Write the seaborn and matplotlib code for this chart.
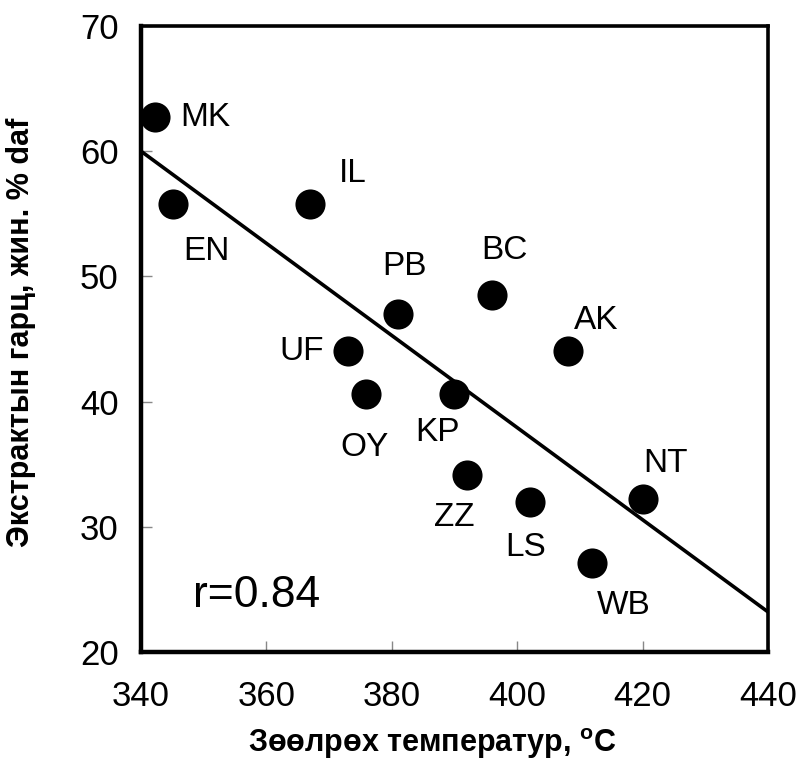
import matplotlib
matplotlib.use("Agg")
import matplotlib.pyplot as plt
import seaborn as sns
import pandas as pd

# ---- data ----
codes = ["MK", "EN", "IL", "PB", "BC", "AK", "UF", "OY", "KP", "ZZ", "LS", "NT", "WB"]
soft_temp = [342.2, 345.1, 367.0, 381.0, 396.0, 408.1, 373.0, 375.9, 389.9, 392.0, 402.0, 420.0, 412.0]
extract_yield = [62.7, 55.8, 55.8, 47.0, 48.5, 44.0, 44.0, 40.6, 40.6, 34.1, 32.0, 32.2, 27.1]
fit_x = [340, 440]
fit_y = [60.0, 23.2]
x_ticks = [340, 360, 380, 400, 420, 440]
y_ticks = [20, 30, 40, 50, 60, 70]
r_text = "r=0.84"
x_label = "Зөөлрөх температур, $\\mathregular{^o}$C"
y_label = "Экстрактын гарц, жин. % daf"

# label offsets (pixels) relative to each point
label_offsets = {
    "MK": (51, 0), "IL": (42, 30), "EN": (33, -48), "PB": (6, 47),
    "BC": (12, 45), "AK": (28, 31), "UF": (-46, 0), "OY": (-2, -53),
    "KP": (-16, -38), "ZZ": (-13, -42), "LS": (-4, -46), "NT": (23, 36),
    "WB": (31, -42),
}

df = pd.DataFrame({"code": codes, "temp": soft_temp, "yield": extract_yield})
fit_df = pd.DataFrame({"temp": fit_x, "yield": fit_y})

sns.set_style("ticks")
plt.rcParams["font.family"] = ["Liberation Sans", "DejaVu Sans"]
plt.rcParams["mathtext.default"] = "regular"
plt.rcParams["axes.labelcolor"] = "black"
plt.rcParams["text.color"] = "black"

fig = plt.figure(figsize=(7.98, 7.62), dpi=100)
ax = fig.add_axes([0.1767, 0.1444, 0.7857, 0.8215])

sns.lineplot(data=fit_df, x="temp", y="yield", ax=ax, color="black", linewidth=2.6)
sns.scatterplot(data=df, x="temp", y="yield", ax=ax, color="black", s=470,
                edgecolor="black", linewidth=0, zorder=5, clip_on=False)

for c, xv, yv in zip(codes, soft_temp, extract_yield):
    dx, dy = label_offsets[c]
    ax.annotate(c, (xv, yv), xytext=(dx, dy), textcoords="offset pixels",
                ha="center", va="center", fontsize=24, color="black")

ax.text(0.083, 0.09, r_text, transform=ax.transAxes, fontsize=32,
        ha="left", va="center", color="black")

ax.set_xlim(340, 440)
ax.set_ylim(20, 70)
ax.set_xticks(x_ticks)
ax.set_yticks(y_ticks)
ax.tick_params(axis="both", direction="in", length=8, width=1, color="#888888",
               labelsize=25, labelcolor="black")
ax.tick_params(axis="y", pad=16)
ax.tick_params(axis="x", pad=20)

for side in ["left", "bottom"]:
    ax.spines[side].set_linewidth(3.2)
for side in ["top", "right"]:
    ax.spines[side].set_visible(True)
    ax.spines[side].set_linewidth(2.6)
for s in ax.spines.values():
    s.set_color("black")

ax.set_xlabel(x_label, fontsize=22, fontweight="bold", color="black")
ax.set_ylabel(y_label, fontsize=22, fontweight="bold", color="black")
ax.xaxis.set_label_coords(0.464, -0.118)
ax.yaxis.set_label_coords(-0.168, 0.51)

fig.savefig("out.png", dpi=100)
